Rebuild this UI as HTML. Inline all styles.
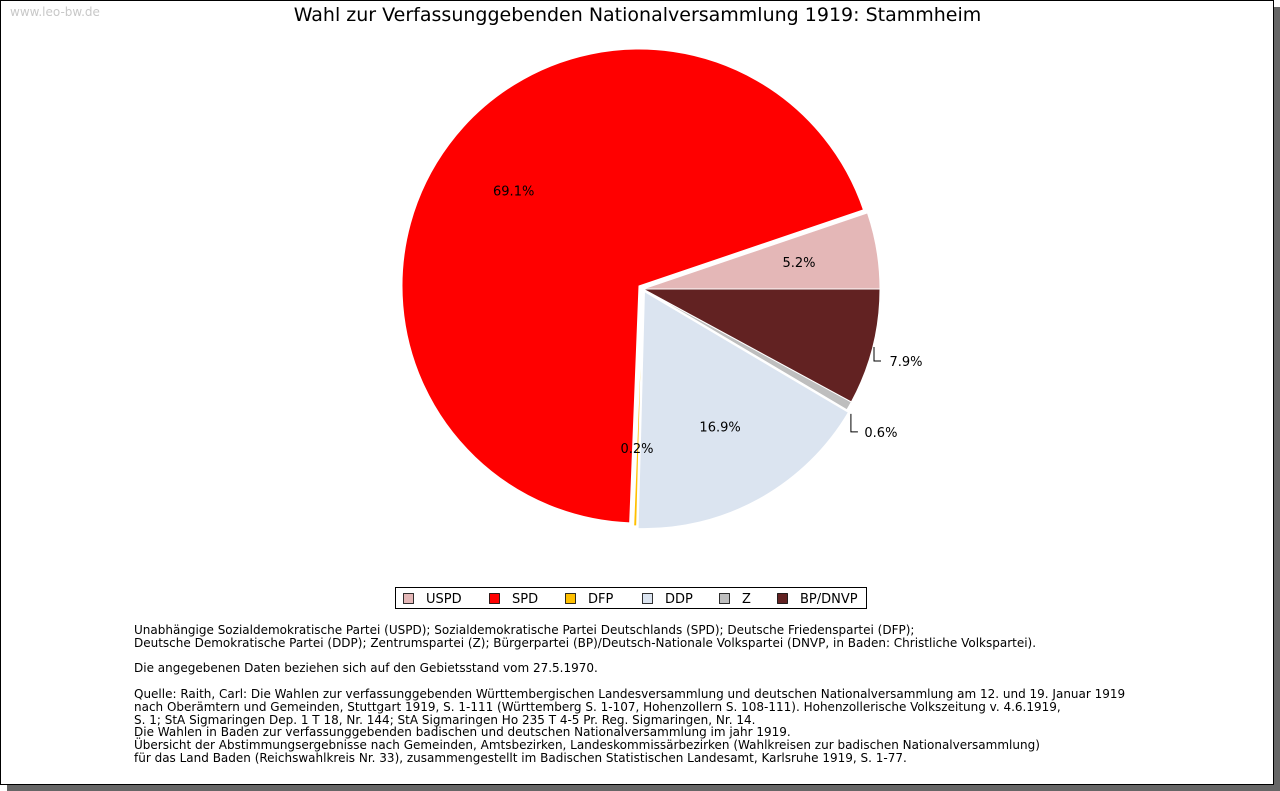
<!DOCTYPE html>
<html><head><meta charset="utf-8">
<style>
html,body{margin:0;padding:0;width:1280px;height:791px;overflow:hidden;background:#fff;}
#frame{position:absolute;left:0;top:0;width:1272px;height:783px;border:1px solid #000;background:#fff;box-shadow:7px 7px 0 #666;font-family:"DejaVu Sans","Liberation Sans",sans-serif;}
#wm{position:absolute;left:9px;top:4px;font-size:12px;color:#c8c8c8;}
#title{position:absolute;left:0;width:1273px;top:3px;text-align:center;font-size:19px;color:#000;}
#notes{position:absolute;left:133px;top:623px;font-size:12px;line-height:12.8px;color:#000;white-space:pre;}
svg{position:absolute;left:0;top:0;}
</style></head><body>
<div id="frame">
<div id="wm">www.leo-bw.de</div>
<div id="title">Wahl zur Verfassunggebenden Nationalversammlung 1919: Stammheim</div>
<svg id="chart" width="1273" height="784"></svg>
<div id="notes">Unabhängige Sozialdemokratische Partei (USPD); Sozialdemokratische Partei Deutschlands (SPD); Deutsche Friedenspartei (DFP);
Deutsche Demokratische Partei (DDP); Zentrumspartei (Z); Bürgerpartei (BP)/Deutsch-Nationale Volkspartei (DNVP, in Baden: Christliche Volkspartei).

Die angegebenen Daten beziehen sich auf den Gebietsstand vom 27.5.1970.

Quelle: Raith, Carl: Die Wahlen zur verfassunggebenden Württembergischen Landesversammlung und deutschen Nationalversammlung am 12. und 19. Januar 1919
nach Oberämtern und Gemeinden, Stuttgart 1919, S. 1-111 (Württemberg S. 1-107, Hohenzollern S. 108-111). Hohenzollerische Volkszeitung v. 4.6.1919,
S. 1; StA Sigmaringen Dep. 1 T 18, Nr. 144; StA Sigmaringen Ho 235 T 4-5 Pr. Reg. Sigmaringen, Nr. 14.
Die Wahlen in Baden zur verfassunggebenden badischen und deutschen Nationalversammlung im jahr 1919.
Übersicht der Abstimmungsergebnisse nach Gemeinden, Amtsbezirken, Landeskommissärbezirken (Wahlkreisen zur badischen Nationalversammlung)
für das Land Baden (Reichswahlkreis Nr. 33), zusammengestellt im Badischen Statistischen Landesamt, Karlsruhe 1919, S. 1-77.</div>
</div>
<script>
const parties = ["USPD","SPD","DFP","DDP","Z","BP/DNVP"];
const shares = [5.2,69.1,0.2,16.9,0.6,7.9];
const colors = ["#e4b7b7","#ff0000","#ffc000","#dbe4f0","#bebebe","#622222"];
const explode = [0,5,0,3,0,0];
const NS="http://www.w3.org/2000/svg";
const svg=document.getElementById('chart');
const cx=642, cy=288, r=237;
const total=shares.reduce((a,b)=>a+b,0);
function pt(a,rad,ox,oy){return [cx+ox+rad*Math.cos(a), cy+oy-rad*Math.sin(a)];}
function mk(tag,attrs){const e=document.createElementNS(NS,tag);for(const k in attrs)e.setAttribute(k,attrs[k]);svg.appendChild(e);return e;}
let a0=0;
const labels=[];
shares.forEach((v,i)=>{
  const a1=a0+v/total*2*Math.PI, am=(a0+a1)/2;
  const ox=explode[i]*Math.cos(am), oy=-explode[i]*Math.sin(am);
  const p0=pt(a0,r,ox,oy), p1=pt(a1,r,ox,oy);
  const large=(a1-a0)>Math.PI?1:0;
  const path=mk('path',{d:`M${cx+ox},${cy+oy} L${p0[0]},${p0[1]} A${r},${r} 0 ${large} 0 ${p1[0]},${p1[1]} Z`,fill:colors[i],stroke:'#fff','stroke-width':1});
  
  
  labels.push({v,am,ox,oy,i});
  a0=a1;
});
labels.forEach(L=>{
  const txt=L.v.toFixed(1)+'%';
  let x,y;
  if(L.v>=3){
    [x,y]=pt(L.am,r*0.66,L.ox,L.oy);
    y+=3;
    if(L.i===0){x=798;y=266;}
  } else if(L.i===2){ x=636; y=452; }
  else {
    const e=pt(L.am,r+2,0,0);
    const ey=e[1]+11;
    const l=mk('polyline',{points:`${e[0]},${e[1]+7} ${e[0]},${ey+14} ${e[0]+7},${ey+14}`,fill:'none',stroke:'#000','stroke-width':1});
    
    
    x=e[0]+30; y=ey+19;
  }
  if(L.i===5){
    const l=mk('polyline',{points:`873,346 873,360 880,360`,fill:'none',stroke:'#000','stroke-width':1});
    
    
    x=905; y=365;
  }
  const t=mk('text',{x:x,y:y,'text-anchor':'middle','font-size':13,fill:'#000','font-family':'DejaVu Sans, Liberation Sans, sans-serif'});
  t.textContent=txt;
  
  
});
const lg=mk('rect',{x:394.5,y:586.5,width:471,height:21,fill:'#fff',stroke:'#000','stroke-width':1});


const lx=[402,488,564,641,718,776];
parties.forEach((p,i)=>{
  const s=mk('rect',{x:lx[i]+0.5,y:592.5,width:10,height:10,fill:colors[i],stroke:'#000','stroke-width':0.8});
  
  
  const t=mk('text',{x:lx[i]+23,y:602,'font-size':13,fill:'#000','font-family':'DejaVu Sans, Liberation Sans, sans-serif'});
  t.textContent=p;
  
  
});
</script>
</body></html>
